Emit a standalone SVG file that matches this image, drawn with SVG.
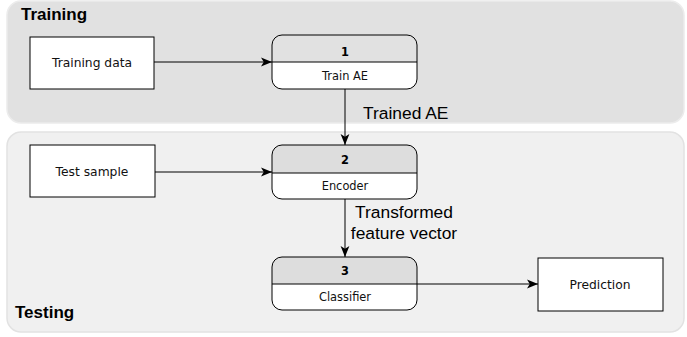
<svg xmlns="http://www.w3.org/2000/svg" width="687" height="337" viewBox="0 0 687 337">
<defs>
<style>
.box{fill:#ffffff;stroke:#000000;stroke-width:1}
.hdr{stroke:#000000;stroke-width:1}
.lbl{font-family:"DejaVu Sans",Verdana,sans-serif;font-size:12.3px;fill:#111;text-anchor:middle}
.nlbl{font-family:"DejaVu Sans",Verdana,sans-serif;font-size:11.4px;fill:#111;text-anchor:middle}
.num{font-family:"DejaVu Sans",Verdana,sans-serif;font-size:11.4px;font-weight:bold;fill:#000;text-anchor:middle}
.edge{font-family:"Liberation Sans",Arial,sans-serif;font-size:17.4px;fill:#000}
.title{font-family:"Liberation Sans",Arial,sans-serif;font-size:17px;font-weight:bold;fill:#000}
.conn{stroke:#000;stroke-width:1;fill:none}
</style>
<marker id="arr" viewBox="0 0 10 10" refX="10" refY="5" markerWidth="11" markerHeight="11" markerUnits="userSpaceOnUse" orient="auto">
<path d="M0,1 L10,5 L0,9 L2.5,5 Z" fill="#000"/>
</marker>
<clipPath id="c1"><rect x="272" y="35" width="145" height="54" rx="10"/></clipPath>
<clipPath id="c2"><rect x="272" y="145" width="145" height="54" rx="10"/></clipPath>
<clipPath id="c3"><rect x="272" y="257" width="145" height="53" rx="10"/></clipPath>
</defs>
<g id="training-group">
<rect x="7" y="1" width="677" height="122" rx="14" fill="#e1e1e1" stroke="#ececec" stroke-width="1.5"/>
<text class="title" x="21" y="20">Training</text>
</g>
<g id="testing-group">
<rect x="7" y="132" width="677" height="200" rx="14" fill="#f0f0f0" stroke="#e2e2e2" stroke-width="1.5"/>
<text class="title" x="15" y="318">Testing</text>
</g>
<g id="connectors">
<line class="conn" x1="154" y1="62" x2="272" y2="62" marker-end="url(#arr)"/>
<line class="conn" x1="155" y1="172" x2="272" y2="172" marker-end="url(#arr)"/>
<line class="conn" x1="345" y1="89" x2="345" y2="145" marker-end="url(#arr)"/>
<line class="conn" x1="345" y1="199" x2="345" y2="257" marker-end="url(#arr)"/>
<line class="conn" x1="417" y1="284" x2="538" y2="284" marker-end="url(#arr)"/>
<text class="edge" x="363" y="119">Trained AE</text>
<text class="edge" x="404" y="218" text-anchor="middle">Transformed</text>
<text class="edge" x="404" y="239" text-anchor="middle">feature vector</text>
</g>
<g id="training-data">
<rect class="box" x="30" y="37" width="124" height="52"/>
<text class="lbl" x="92" y="67">Training data</text>
</g>
<g id="test-sample">
<rect class="box" x="30" y="145" width="125" height="52"/>
<text class="lbl" x="92" y="176">Test sample</text>
</g>
<g id="prediction">
<rect class="box" x="538" y="258" width="125" height="53"/>
<text class="lbl" x="600" y="289">Prediction</text>
</g>
<g id="node1">
<g clip-path="url(#c1)">
<rect x="272" y="35" width="145" height="27" fill="#e1e1e1"/>
<rect x="272" y="62" width="145" height="27" fill="#ffffff"/>
</g>
<line class="hdr" x1="272" y1="62" x2="417" y2="62"/>
<rect x="272" y="35" width="145" height="54" rx="10" fill="none" stroke="#000"/>
<text class="num" x="345" y="56">1</text>
<text class="nlbl" x="345" y="80">Train AE</text>
</g>
<g id="node2">
<g clip-path="url(#c2)">
<rect x="272" y="145" width="145" height="28" fill="#dddddd"/>
<rect x="272" y="173" width="145" height="26" fill="#ffffff"/>
</g>
<line class="hdr" x1="272" y1="173" x2="417" y2="173"/>
<rect x="272" y="145" width="145" height="54" rx="10" fill="none" stroke="#000"/>
<text class="num" x="345" y="164">2</text>
<text class="nlbl" x="345" y="190">Encoder</text>
</g>
<g id="node3">
<g clip-path="url(#c3)">
<rect x="272" y="257" width="145" height="27" fill="#dddddd"/>
<rect x="272" y="284" width="145" height="26" fill="#ffffff"/>
</g>
<line class="hdr" x1="272" y1="284" x2="417" y2="284"/>
<rect x="272" y="257" width="145" height="53" rx="10" fill="none" stroke="#000"/>
<text class="num" x="345" y="275">3</text>
<text class="nlbl" x="345" y="301">Classifier</text>
</g>
</svg>
